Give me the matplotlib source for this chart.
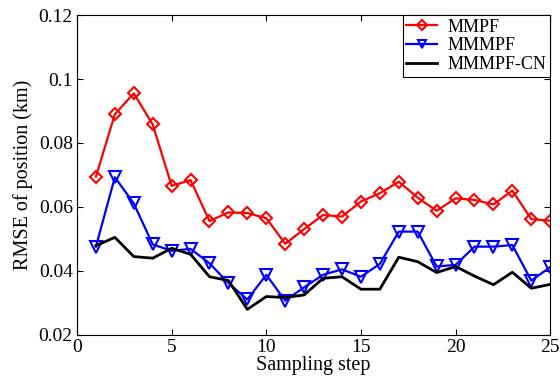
import numpy as np
import matplotlib.pyplot as plt

steps = np.arange(1, 26)
mmpf = [0.0695, 0.0890, 0.0955, 0.0858, 0.0666, 0.0684, 0.0556, 0.0583, 0.0581, 0.0565,
        0.0485, 0.0531, 0.0575, 0.0570, 0.0617, 0.0643, 0.0679, 0.0629, 0.0588, 0.0627,
        0.0622, 0.0608, 0.0651, 0.0562, 0.0557]
mmmpf = [0.0476, 0.0693, 0.0611, 0.0483, 0.0463, 0.0469, 0.0424, 0.0362, 0.0311, 0.0388,
         0.0307, 0.0349, 0.0388, 0.0405, 0.0382, 0.0422, 0.0523, 0.0523, 0.0414, 0.0419,
         0.0476, 0.0476, 0.0481, 0.0370, 0.0412]
mmmpf_cn = [0.0479, 0.0505, 0.0445, 0.0440, 0.0471, 0.0452, 0.0382, 0.0370, 0.0280, 0.0320,
            0.0317, 0.0325, 0.0377, 0.0382, 0.0343, 0.0343, 0.0443, 0.0429, 0.0395, 0.0414,
            0.0384, 0.0357, 0.0396, 0.0346, 0.0358]

plt.rcParams['font.family'] = ['Liberation Serif', 'DejaVu Serif']
plt.rcParams['font.size'] = 14

fig = plt.figure(figsize=(5.6, 3.85), dpi=100)
ax = fig.add_axes([0.1375, 0.13, 0.845, 0.831])

ax.plot(steps, mmpf, color='red', lw=1.6, marker='D', ms=6, mfc='none', mew=1.5, label='MMPF')
ax.plot(steps, mmmpf, color='blue', lw=1.6, marker='v', ms=8, mfc='none', mew=1.5, label='MMMPF')
ax.plot(steps, mmmpf_cn, color='black', lw=2, label='MMMPF-CN')

ax.set_xlim(0, 25)
ax.set_ylim(0.02, 0.12)
ax.set_xticks([0, 5, 10, 15, 20, 25])
ax.set_yticks([0.02, 0.04, 0.06, 0.08, 0.1, 0.12])
ax.set_yticklabels(['0.02', '0.04', '0.06', '0.08', '0.1', '0.12'])
ax.tick_params(direction='in', top=True, right=True, labelsize=14, length=4, pad=3)
ax.set_xlabel('Sampling step', fontsize=14.5, labelpad=0)
ax.set_ylabel('RMSE of position (km)', fontsize=14.5, labelpad=4)

leg = ax.legend(loc='upper right', fontsize=13, fancybox=False, framealpha=1,
                edgecolor='black', borderaxespad=0, handlelength=1.7, handletextpad=0.6,
                borderpad=0.2, labelspacing=0.1, markerscale=0.8)
leg.get_frame().set_linewidth(0.8)

fig.savefig('out.png', dpi=100)
